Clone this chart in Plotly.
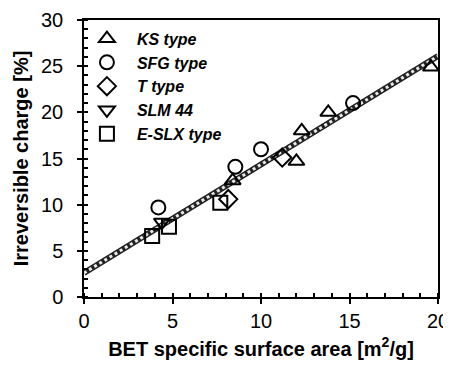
import plotly.graph_objects as go

# Data
ks_x = [8.4, 12.0, 12.3, 13.8, 19.6]
ks_y = [12.6, 14.7, 18.0, 20.0, 24.9]
sfg_x = [4.2, 8.55, 10.0, 15.2]
sfg_y = [9.7, 14.1, 16.0, 21.0]
t_x = [8.15, 11.2]
t_y = [10.6, 15.1]
slm_x = [4.4]
slm_y = [8.1]
eslx_x = [3.85, 4.8, 7.7]
eslx_y = [6.6, 7.6, 10.2]
fit_x = [0, 20]
fit_y = [2.6, 26.1]

series = [
    ("KS type", ks_x, ks_y, "triangle-up-open"),
    ("SFG type", sfg_x, sfg_y, "circle-open"),
    ("T type", t_x, t_y, "diamond-open"),
    ("SLM 44", slm_x, slm_y, "triangle-down-open"),
    ("E-SLX type", eslx_x, eslx_y, "square-open"),
]

FONT = "Liberation Sans, Arial, Helvetica, sans-serif"

fig = go.Figure()
fig.add_trace(go.Scatter(x=fit_x, y=fit_y, mode="lines", showlegend=False,
                         line=dict(color="#222", width=6), hoverinfo="skip"))
fig.add_trace(go.Scatter(x=fit_x, y=fit_y, mode="lines", showlegend=False,
                         line=dict(color="#e8e8e8", width=3, dash="dot"), hoverinfo="skip"))
for name, xs, ys, sym in series:
    fig.add_trace(go.Scatter(
        x=xs, y=ys, mode="markers", name="<b><i>" + name + "</i></b>",
        marker=dict(symbol=sym, size=14, color="black", line=dict(color="black", width=2)),
    ))

axis_common = dict(
    ticks="outside", ticklen=5, tickwidth=1.5, tickcolor="black",
    showline=True, linecolor="black", linewidth=1.5, mirror=True,
    showgrid=False, zeroline=False, automargin=False,
    tickfont=dict(size=20, family=FONT, color="black"),
)

# The page body has an 8px default margin, so the figure is sized/shifted to compensate.
fig.update_layout(
    width=443, height=361,
    margin=dict(l=76, r=13, t=12, b=72),
    paper_bgcolor="white", plot_bgcolor="white",
    font=dict(family=FONT, size=17, color="black"),
    legend=dict(x=-0.02, y=0.994, xanchor="left", yanchor="top",
                font=dict(size=16, family=FONT, color="black"),
                bgcolor="rgba(0,0,0,0)", tracegroupgap=0, itemwidth=50),
    xaxis=dict(range=[0, 20], tickvals=[0, 5, 10, 15, 20],
               minor=dict(dtick=1, ticks="inside", ticklen=4, tickcolor="black", showgrid=False),
               title=dict(text="<b>BET specific surface area [m<sup>2</sup>/g]</b>", standoff=11,
                          font=dict(size=20, family=FONT, color="black")),
               **axis_common),
    yaxis=dict(range=[0, 30], tickvals=[0, 5, 10, 15, 20, 25, 30], ticklabelstandoff=10,
               minor=dict(dtick=1, ticks="inside", ticklen=4, tickcolor="black", showgrid=False),
               title=dict(text="<b>Irreversible charge [%]</b>", standoff=7,
                          font=dict(size=20, family=FONT, color="black")),
               **axis_common),
)

fig.write_html("out.html")
